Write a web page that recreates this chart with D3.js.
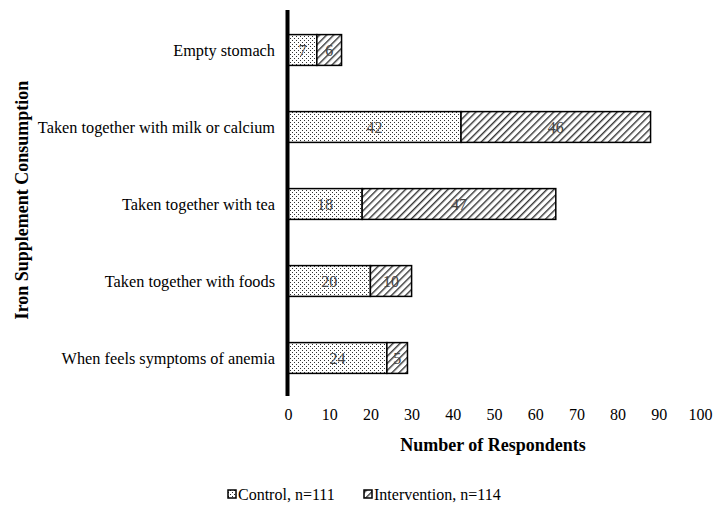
<!DOCTYPE html>
<html><head><meta charset="utf-8">
<script src="https://cdn.jsdelivr.net/npm/d3@7"></script>
<style>body{margin:0;background:#fff}svg{display:block}</style>
</head><body><svg id="c" width="723" height="508"></svg>
<script>
const categories = ["Empty stomach","Taken together with milk or calcium","Taken together with tea","Taken together with foods","When feels symptoms of anemia"];
const control = [7,42,18,20,24];
const intervention = [6,46,47,10,5];
const seriesNames = ["Control, n=111","Intervention, n=114"];
const xTicks = [0,10,20,30,40,50,60,70,80,90,100];

const svg = d3.select("#c");
const font = "'Liberation Serif','Times New Roman',serif";
const defs = svg.append("defs");
const dots = defs.append("pattern").attr("id","dots").attr("patternUnits","userSpaceOnUse").attr("width",4).attr("height",4);
dots.append("rect").attr("width",4).attr("height",4).attr("fill","#fff");
dots.append("rect").attr("x",0).attr("y",0).attr("width",1).attr("height",1).attr("fill","#333");
dots.append("rect").attr("x",2).attr("y",2).attr("width",1).attr("height",1).attr("fill","#333");
const hatch = defs.append("pattern").attr("id","hatch").attr("patternUnits","userSpaceOnUse").attr("width",5).attr("height",5).attr("patternTransform","rotate(45)");
hatch.append("rect").attr("width",5).attr("height",5).attr("fill","#fff");
hatch.append("rect").attr("x",0).attr("y",0).attr("width",1.4).attr("height",5).attr("fill","#333");

const x = d3.scaleLinear().domain([0,100]).range([288,700]);
const y = d3.scaleBand().domain(categories).range([11.5,396.5]).paddingInner(0.6).paddingOuter(0.3);

const g = svg.append("g");
categories.forEach((c,i)=>{
  const yy = y(c), h = y.bandwidth();
  g.append("rect").attr("x",x(0)).attr("y",yy).attr("width",x(control[i])-x(0)).attr("height",h)
   .attr("fill","url(#dots)").attr("stroke","#000").attr("stroke-width",1.5);
  g.append("rect").attr("x",x(control[i])).attr("y",yy).attr("width",x(control[i]+intervention[i])-x(control[i])).attr("height",h)
   .attr("fill","url(#hatch)").attr("stroke","#000").attr("stroke-width",1.5);
  g.append("text").attr("x",(x(0)+x(control[i]))/2).attr("y",yy+h/2+5.5).attr("text-anchor","middle")
   .attr("font-family",font).attr("font-size",16).attr("fill","#444").text(control[i]);
  g.append("text").attr("x",(x(control[i])+x(control[i]+intervention[i]))/2).attr("y",yy+h/2+5.5).attr("text-anchor","middle")
   .attr("font-family",font).attr("font-size",16).attr("fill","#444").text(intervention[i]);
  g.append("text").attr("x",275).attr("y",yy+h/2+5.5).attr("text-anchor","end")
   .attr("font-family",font).attr("font-size",16.3).attr("fill","#000").text(c);
});

// y axis line
svg.append("line").attr("x1",287.5).attr("x2",287.5).attr("y1",10).attr("y2",396).attr("stroke","#000").attr("stroke-width",4);

// x tick labels
const xa = svg.append("g").attr("transform","translate(0,403)").call(d3.axisBottom(x).tickValues(xTicks).tickSize(0).tickPadding(6));
xa.select(".domain").remove();
xa.selectAll("text").attr("font-family",font).attr("font-size",16).attr("fill","#000");

svg.append("text").attr("x",493).attr("y",451).attr("text-anchor","middle").attr("font-family",font)
  .attr("font-size",18).attr("font-weight","bold").text("Number of Respondents");
svg.append("text").attr("transform","translate(28,200) rotate(-90)").attr("text-anchor","middle").attr("font-family",font)
  .attr("font-size",18).attr("font-weight","bold").text("Iron Supplement Consumption");

// legend
const leg = svg.append("g");
const legX = [228,364];
const fills = ["url(#dots)","url(#hatch)"];
seriesNames.forEach((s,i)=>{
  leg.append("rect").attr("x",legX[i]).attr("y",490).attr("width",8).attr("height",8).attr("fill",fills[i]).attr("stroke","#000").attr("stroke-width",1.5);
  leg.append("text").attr("x",legX[i]+10).attr("y",500).attr("font-family",font).attr("font-size",16).text(s);
});
</script></body></html>
